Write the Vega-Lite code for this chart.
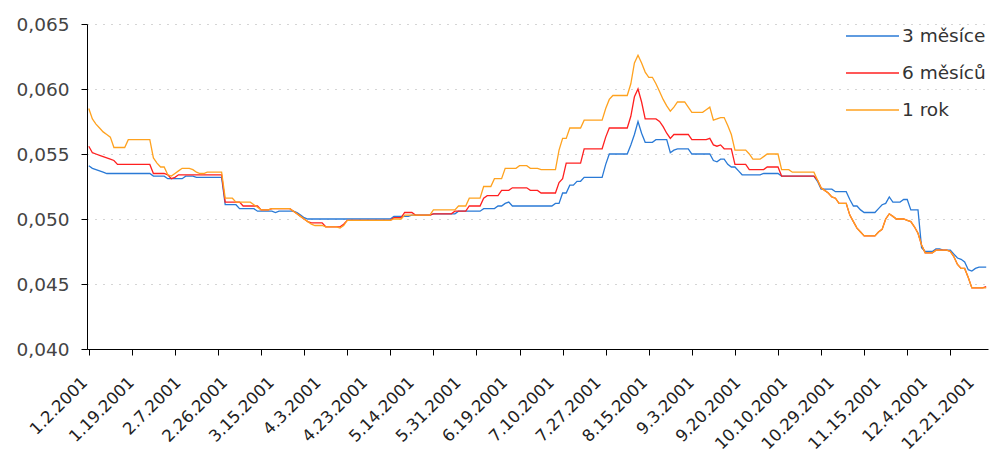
{
"$schema": "https://vega.github.io/schema/vega-lite/v6.json",
"width": 901, "height": 325,
"autosize": {"type": "none"},
"padding": {"left": 87, "top": 24, "right": 5, "bottom": 110},
"background": "white",
"config": {"view": {"stroke": null}, "font": "DejaVu Sans"},
"data": {"values": [
{"d":"1.2.2001","m3":0.0541,"m6":0.0556,"y1":0.0585},
{"d":"1.3.2001","m3":0.0539,"m6":0.0551,"y1":0.0577},
{"d":"1.4.2001","m3":0.0538,"m6":0.0550,"y1":0.0573},
{"d":"1.5.2001","m3":0.0537,"m6":0.0549,"y1":0.0570},
{"d":"1.8.2001","m3":0.0536,"m6":0.0548,"y1":0.0567},
{"d":"1.9.2001","m3":0.0535,"m6":0.0547,"y1":0.0565},
{"d":"1.10.2001","m3":0.0535,"m6":0.0546,"y1":0.0563},
{"d":"1.11.2001","m3":0.0535,"m6":0.0545,"y1":0.0555},
{"d":"1.12.2001","m3":0.0535,"m6":0.0542,"y1":0.0555},
{"d":"1.15.2001","m3":0.0535,"m6":0.0542,"y1":0.0555},
{"d":"1.16.2001","m3":0.0535,"m6":0.0542,"y1":0.0555},
{"d":"1.17.2001","m3":0.0535,"m6":0.0542,"y1":0.0561},
{"d":"1.18.2001","m3":0.0535,"m6":0.0542,"y1":0.0561},
{"d":"1.19.2001","m3":0.0535,"m6":0.0542,"y1":0.0561},
{"d":"1.22.2001","m3":0.0535,"m6":0.0542,"y1":0.0561},
{"d":"1.23.2001","m3":0.0535,"m6":0.0542,"y1":0.0561},
{"d":"1.24.2001","m3":0.0535,"m6":0.0542,"y1":0.0561},
{"d":"1.25.2001","m3":0.0535,"m6":0.0542,"y1":0.0561},
{"d":"1.26.2001","m3":0.0533,"m6":0.0535,"y1":0.0547},
{"d":"1.29.2001","m3":0.0533,"m6":0.0535,"y1":0.0543},
{"d":"1.30.2001","m3":0.0533,"m6":0.0535,"y1":0.0540},
{"d":"1.31.2001","m3":0.0533,"m6":0.0535,"y1":0.0540},
{"d":"2.1.2001","m3":0.0531,"m6":0.0534,"y1":0.0534},
{"d":"2.2.2001","m3":0.0531,"m6":0.0531,"y1":0.0533},
{"d":"2.5.2001","m3":0.0531,"m6":0.0532,"y1":0.0535},
{"d":"2.6.2001","m3":0.0531,"m6":0.0534,"y1":0.0537},
{"d":"2.7.2001","m3":0.0531,"m6":0.0534,"y1":0.0539},
{"d":"2.8.2001","m3":0.0533,"m6":0.0534,"y1":0.0539},
{"d":"2.9.2001","m3":0.0533,"m6":0.0534,"y1":0.0539},
{"d":"2.12.2001","m3":0.0533,"m6":0.0534,"y1":0.0538},
{"d":"2.13.2001","m3":0.0532,"m6":0.0534,"y1":0.0536},
{"d":"2.14.2001","m3":0.0532,"m6":0.0534,"y1":0.0535},
{"d":"2.15.2001","m3":0.0532,"m6":0.0534,"y1":0.0535},
{"d":"2.16.2001","m3":0.0532,"m6":0.0534,"y1":0.0536},
{"d":"2.19.2001","m3":0.0532,"m6":0.0534,"y1":0.0536},
{"d":"2.20.2001","m3":0.0532,"m6":0.0534,"y1":0.0536},
{"d":"2.21.2001","m3":0.0532,"m6":0.0534,"y1":0.0536},
{"d":"2.22.2001","m3":0.0532,"m6":0.0534,"y1":0.0536},
{"d":"2.23.2001","m3":0.0511,"m6":0.0513,"y1":0.0516},
{"d":"2.26.2001","m3":0.0511,"m6":0.0513,"y1":0.0516},
{"d":"2.27.2001","m3":0.0511,"m6":0.0513,"y1":0.0516},
{"d":"2.28.2001","m3":0.0511,"m6":0.0513,"y1":0.0513},
{"d":"3.1.2001","m3":0.0508,"m6":0.0513,"y1":0.0513},
{"d":"3.2.2001","m3":0.0508,"m6":0.0510,"y1":0.0513},
{"d":"3.5.2001","m3":0.0508,"m6":0.0510,"y1":0.0513},
{"d":"3.6.2001","m3":0.0508,"m6":0.0510,"y1":0.0513},
{"d":"3.7.2001","m3":0.0508,"m6":0.0510,"y1":0.0511},
{"d":"3.8.2001","m3":0.0506,"m6":0.0510,"y1":0.0509},
{"d":"3.9.2001","m3":0.0506,"m6":0.0507,"y1":0.0507},
{"d":"3.12.2001","m3":0.0506,"m6":0.0507,"y1":0.0507},
{"d":"3.13.2001","m3":0.0506,"m6":0.0507,"y1":0.0507},
{"d":"3.14.2001","m3":0.0506,"m6":0.0508,"y1":0.0508},
{"d":"3.15.2001","m3":0.0505,"m6":0.0508,"y1":0.0508},
{"d":"3.16.2001","m3":0.0506,"m6":0.0508,"y1":0.0508},
{"d":"3.19.2001","m3":0.0506,"m6":0.0508,"y1":0.0508},
{"d":"3.20.2001","m3":0.0506,"m6":0.0508,"y1":0.0508},
{"d":"3.21.2001","m3":0.0506,"m6":0.0508,"y1":0.0508},
{"d":"3.22.2001","m3":0.0506,"m6":0.0506,"y1":0.0506},
{"d":"3.23.2001","m3":0.0505,"m6":0.0504,"y1":0.0504},
{"d":"3.26.2001","m3":0.0503,"m6":0.0502,"y1":0.0502},
{"d":"3.27.2001","m3":0.0501,"m6":0.0500,"y1":0.0500},
{"d":"3.28.2001","m3":0.0500,"m6":0.0498,"y1":0.0498},
{"d":"3.29.2001","m3":0.0500,"m6":0.0497,"y1":0.0496},
{"d":"3.30.2001","m3":0.0500,"m6":0.0497,"y1":0.0495},
{"d":"4.2.2001","m3":0.0500,"m6":0.0497,"y1":0.0495},
{"d":"4.3.2001","m3":0.0500,"m6":0.0497,"y1":0.0495},
{"d":"4.4.2001","m3":0.0500,"m6":0.0494,"y1":0.0494},
{"d":"4.5.2001","m3":0.0500,"m6":0.0494,"y1":0.0494},
{"d":"4.6.2001","m3":0.0500,"m6":0.0494,"y1":0.0494},
{"d":"4.9.2001","m3":0.0500,"m6":0.0494,"y1":0.0494},
{"d":"4.10.2001","m3":0.0500,"m6":0.0494,"y1":0.0493},
{"d":"4.11.2001","m3":0.0500,"m6":0.0496,"y1":0.0495},
{"d":"4.12.2001","m3":0.0500,"m6":0.0499,"y1":0.0499},
{"d":"4.13.2001","m3":0.0500,"m6":0.0499,"y1":0.0499},
{"d":"4.17.2001","m3":0.0500,"m6":0.0499,"y1":0.0499},
{"d":"4.18.2001","m3":0.0500,"m6":0.0499,"y1":0.0499},
{"d":"4.19.2001","m3":0.0500,"m6":0.0499,"y1":0.0499},
{"d":"4.20.2001","m3":0.0500,"m6":0.0499,"y1":0.0499},
{"d":"4.23.2001","m3":0.0500,"m6":0.0499,"y1":0.0499},
{"d":"4.24.2001","m3":0.0500,"m6":0.0499,"y1":0.0499},
{"d":"4.25.2001","m3":0.0500,"m6":0.0499,"y1":0.0499},
{"d":"4.26.2001","m3":0.0500,"m6":0.0499,"y1":0.0499},
{"d":"4.27.2001","m3":0.0500,"m6":0.0499,"y1":0.0499},
{"d":"4.30.2001","m3":0.0500,"m6":0.0499,"y1":0.0499},
{"d":"5.2.2001","m3":0.0500,"m6":0.0499,"y1":0.0499},
{"d":"5.3.2001","m3":0.0502,"m6":0.0501,"y1":0.0500},
{"d":"5.4.2001","m3":0.0502,"m6":0.0501,"y1":0.0500},
{"d":"5.7.2001","m3":0.0502,"m6":0.0501,"y1":0.0500},
{"d":"5.9.2001","m3":0.0502,"m6":0.0505,"y1":0.0503},
{"d":"5.10.2001","m3":0.0502,"m6":0.0505,"y1":0.0503},
{"d":"5.11.2001","m3":0.0503,"m6":0.0505,"y1":0.0503},
{"d":"5.14.2001","m3":0.0503,"m6":0.0503,"y1":0.0503},
{"d":"5.15.2001","m3":0.0503,"m6":0.0503,"y1":0.0503},
{"d":"5.16.2001","m3":0.0503,"m6":0.0503,"y1":0.0503},
{"d":"5.17.2001","m3":0.0503,"m6":0.0503,"y1":0.0503},
{"d":"5.18.2001","m3":0.0503,"m6":0.0503,"y1":0.0503},
{"d":"5.21.2001","m3":0.0504,"m6":0.0504,"y1":0.0507},
{"d":"5.22.2001","m3":0.0504,"m6":0.0504,"y1":0.0507},
{"d":"5.23.2001","m3":0.0504,"m6":0.0504,"y1":0.0507},
{"d":"5.24.2001","m3":0.0504,"m6":0.0504,"y1":0.0507},
{"d":"5.25.2001","m3":0.0504,"m6":0.0504,"y1":0.0507},
{"d":"5.28.2001","m3":0.0504,"m6":0.0504,"y1":0.0507},
{"d":"5.29.2001","m3":0.0504,"m6":0.0506,"y1":0.0507},
{"d":"5.30.2001","m3":0.0506,"m6":0.0506,"y1":0.0510},
{"d":"5.31.2001","m3":0.0506,"m6":0.0506,"y1":0.0510},
{"d":"6.1.2001","m3":0.0506,"m6":0.0506,"y1":0.0510},
{"d":"6.4.2001","m3":0.0506,"m6":0.0510,"y1":0.0516},
{"d":"6.5.2001","m3":0.0506,"m6":0.0510,"y1":0.0516},
{"d":"6.6.2001","m3":0.0506,"m6":0.0510,"y1":0.0516},
{"d":"6.7.2001","m3":0.0506,"m6":0.0510,"y1":0.0516},
{"d":"6.8.2001","m3":0.0508,"m6":0.0516,"y1":0.0525},
{"d":"6.11.2001","m3":0.0508,"m6":0.0518,"y1":0.0525},
{"d":"6.12.2001","m3":0.0508,"m6":0.0518,"y1":0.0525},
{"d":"6.13.2001","m3":0.0508,"m6":0.0518,"y1":0.0531},
{"d":"6.14.2001","m3":0.0510,"m6":0.0518,"y1":0.0531},
{"d":"6.15.2001","m3":0.0510,"m6":0.0522,"y1":0.0531},
{"d":"6.18.2001","m3":0.0512,"m6":0.0522,"y1":0.0539},
{"d":"6.19.2001","m3":0.0513,"m6":0.0522,"y1":0.0539},
{"d":"6.20.2001","m3":0.0510,"m6":0.0524,"y1":0.0539},
{"d":"6.21.2001","m3":0.0510,"m6":0.0524,"y1":0.0539},
{"d":"6.22.2001","m3":0.0510,"m6":0.0524,"y1":0.0541},
{"d":"6.25.2001","m3":0.0510,"m6":0.0524,"y1":0.0541},
{"d":"6.26.2001","m3":0.0510,"m6":0.0524,"y1":0.0541},
{"d":"6.27.2001","m3":0.0510,"m6":0.0522,"y1":0.0539},
{"d":"6.28.2001","m3":0.0510,"m6":0.0522,"y1":0.0539},
{"d":"6.29.2001","m3":0.0510,"m6":0.0522,"y1":0.0539},
{"d":"7.2.2001","m3":0.0510,"m6":0.0520,"y1":0.0538},
{"d":"7.3.2001","m3":0.0510,"m6":0.0520,"y1":0.0538},
{"d":"7.4.2001","m3":0.0510,"m6":0.0520,"y1":0.0538},
{"d":"7.9.2001","m3":0.0510,"m6":0.0520,"y1":0.0538},
{"d":"7.10.2001","m3":0.0512,"m6":0.0520,"y1":0.0538},
{"d":"7.11.2001","m3":0.0512,"m6":0.0528,"y1":0.0553},
{"d":"7.12.2001","m3":0.0520,"m6":0.0531,"y1":0.0562},
{"d":"7.13.2001","m3":0.0520,"m6":0.0543,"y1":0.0562},
{"d":"7.16.2001","m3":0.0526,"m6":0.0543,"y1":0.0570},
{"d":"7.17.2001","m3":0.0526,"m6":0.0543,"y1":0.0570},
{"d":"7.18.2001","m3":0.0529,"m6":0.0543,"y1":0.0570},
{"d":"7.19.2001","m3":0.0529,"m6":0.0543,"y1":0.0570},
{"d":"7.20.2001","m3":0.0532,"m6":0.0554,"y1":0.0576},
{"d":"7.23.2001","m3":0.0532,"m6":0.0554,"y1":0.0576},
{"d":"7.24.2001","m3":0.0532,"m6":0.0554,"y1":0.0576},
{"d":"7.25.2001","m3":0.0532,"m6":0.0554,"y1":0.0576},
{"d":"7.26.2001","m3":0.0532,"m6":0.0554,"y1":0.0576},
{"d":"7.27.2001","m3":0.0532,"m6":0.0554,"y1":0.0576},
{"d":"7.30.2001","m3":0.0542,"m6":0.0563,"y1":0.0585},
{"d":"7.31.2001","m3":0.0550,"m6":0.0570,"y1":0.0592},
{"d":"8.1.2001","m3":0.0550,"m6":0.0570,"y1":0.0595},
{"d":"8.2.2001","m3":0.0550,"m6":0.0570,"y1":0.0595},
{"d":"8.3.2001","m3":0.0550,"m6":0.0570,"y1":0.0595},
{"d":"8.6.2001","m3":0.0550,"m6":0.0570,"y1":0.0595},
{"d":"8.7.2001","m3":0.0550,"m6":0.0570,"y1":0.0595},
{"d":"8.8.2001","m3":0.0557,"m6":0.0579,"y1":0.0604},
{"d":"8.9.2001","m3":0.0565,"m6":0.0594,"y1":0.0620},
{"d":"8.10.2001","m3":0.0575,"m6":0.0600,"y1":0.0626},
{"d":"8.13.2001","m3":0.0566,"m6":0.0590,"y1":0.0620},
{"d":"8.14.2001","m3":0.0559,"m6":0.0577,"y1":0.0613},
{"d":"8.15.2001","m3":0.0559,"m6":0.0577,"y1":0.0609},
{"d":"8.16.2001","m3":0.0559,"m6":0.0577,"y1":0.0609},
{"d":"8.17.2001","m3":0.0561,"m6":0.0577,"y1":0.0604},
{"d":"8.20.2001","m3":0.0561,"m6":0.0575,"y1":0.0598},
{"d":"8.21.2001","m3":0.0561,"m6":0.0571,"y1":0.0592},
{"d":"8.22.2001","m3":0.0561,"m6":0.0566,"y1":0.0587},
{"d":"8.23.2001","m3":0.0551,"m6":0.0562,"y1":0.0583},
{"d":"8.24.2001","m3":0.0553,"m6":0.0565,"y1":0.0586},
{"d":"8.27.2001","m3":0.0554,"m6":0.0565,"y1":0.0590},
{"d":"8.28.2001","m3":0.0554,"m6":0.0565,"y1":0.0590},
{"d":"8.29.2001","m3":0.0554,"m6":0.0565,"y1":0.0590},
{"d":"8.30.2001","m3":0.0554,"m6":0.0565,"y1":0.0586},
{"d":"8.31.2001","m3":0.0550,"m6":0.0561,"y1":0.0582},
{"d":"9.3.2001","m3":0.0550,"m6":0.0561,"y1":0.0582},
{"d":"9.4.2001","m3":0.0550,"m6":0.0561,"y1":0.0582},
{"d":"9.5.2001","m3":0.0550,"m6":0.0561,"y1":0.0582},
{"d":"9.6.2001","m3":0.0550,"m6":0.0561,"y1":0.0584},
{"d":"9.7.2001","m3":0.0550,"m6":0.0562,"y1":0.0586},
{"d":"9.10.2001","m3":0.0545,"m6":0.0557,"y1":0.0576},
{"d":"9.11.2001","m3":0.0544,"m6":0.0556,"y1":0.0577},
{"d":"9.12.2001","m3":0.0546,"m6":0.0557,"y1":0.0578},
{"d":"9.13.2001","m3":0.0546,"m6":0.0554,"y1":0.0578},
{"d":"9.14.2001","m3":0.0542,"m6":0.0554,"y1":0.0572},
{"d":"9.17.2001","m3":0.0540,"m6":0.0554,"y1":0.0565},
{"d":"9.18.2001","m3":0.0540,"m6":0.0542,"y1":0.0553},
{"d":"9.19.2001","m3":0.0537,"m6":0.0542,"y1":0.0553},
{"d":"9.20.2001","m3":0.0534,"m6":0.0542,"y1":0.0553},
{"d":"9.21.2001","m3":0.0534,"m6":0.0542,"y1":0.0553},
{"d":"9.24.2001","m3":0.0534,"m6":0.0538,"y1":0.0550},
{"d":"9.25.2001","m3":0.0534,"m6":0.0538,"y1":0.0546},
{"d":"9.26.2001","m3":0.0534,"m6":0.0538,"y1":0.0546},
{"d":"9.27.2001","m3":0.0534,"m6":0.0538,"y1":0.0546},
{"d":"10.1.2001","m3":0.0535,"m6":0.0538,"y1":0.0548},
{"d":"10.2.2001","m3":0.0535,"m6":0.0540,"y1":0.0550},
{"d":"10.3.2001","m3":0.0535,"m6":0.0540,"y1":0.0550},
{"d":"10.4.2001","m3":0.0535,"m6":0.0540,"y1":0.0550},
{"d":"10.5.2001","m3":0.0535,"m6":0.0540,"y1":0.0550},
{"d":"10.8.2001","m3":0.0533,"m6":0.0533,"y1":0.0538},
{"d":"10.9.2001","m3":0.0533,"m6":0.0533,"y1":0.0538},
{"d":"10.10.2001","m3":0.0533,"m6":0.0533,"y1":0.0538},
{"d":"10.11.2001","m3":0.0533,"m6":0.0533,"y1":0.0536},
{"d":"10.12.2001","m3":0.0533,"m6":0.0533,"y1":0.0536},
{"d":"10.15.2001","m3":0.0533,"m6":0.0533,"y1":0.0536},
{"d":"10.16.2001","m3":0.0533,"m6":0.0533,"y1":0.0536},
{"d":"10.17.2001","m3":0.0533,"m6":0.0533,"y1":0.0536},
{"d":"10.18.2001","m3":0.0533,"m6":0.0533,"y1":0.0536},
{"d":"10.19.2001","m3":0.0533,"m6":0.0533,"y1":0.0536},
{"d":"10.22.2001","m3":0.0529,"m6":0.0530,"y1":0.0530},
{"d":"10.23.2001","m3":0.0523,"m6":0.0524,"y1":0.0524},
{"d":"10.24.2001","m3":0.0523,"m6":0.0522,"y1":0.0522},
{"d":"10.25.2001","m3":0.0523,"m6":0.0520,"y1":0.0520},
{"d":"10.26.2001","m3":0.0523,"m6":0.0517,"y1":0.0517},
{"d":"10.29.2001","m3":0.0521,"m6":0.0516,"y1":0.0516},
{"d":"10.30.2001","m3":0.0521,"m6":0.0512,"y1":0.0512},
{"d":"10.31.2001","m3":0.0521,"m6":0.0512,"y1":0.0512},
{"d":"11.1.2001","m3":0.0521,"m6":0.0512,"y1":0.0512},
{"d":"11.2.2001","m3":0.0515,"m6":0.0503,"y1":0.0503},
{"d":"11.5.2001","m3":0.0510,"m6":0.0498,"y1":0.0498},
{"d":"11.6.2001","m3":0.0510,"m6":0.0493,"y1":0.0493},
{"d":"11.7.2001","m3":0.0507,"m6":0.0490,"y1":0.0490},
{"d":"11.8.2001","m3":0.0505,"m6":0.0487,"y1":0.0487},
{"d":"11.9.2001","m3":0.0505,"m6":0.0487,"y1":0.0487},
{"d":"11.12.2001","m3":0.0505,"m6":0.0487,"y1":0.0487},
{"d":"11.13.2001","m3":0.0505,"m6":0.0487,"y1":0.0487},
{"d":"11.14.2001","m3":0.0508,"m6":0.0490,"y1":0.0490},
{"d":"11.15.2001","m3":0.0511,"m6":0.0492,"y1":0.0492},
{"d":"11.16.2001","m3":0.0512,"m6":0.0500,"y1":0.0500},
{"d":"11.19.2001","m3":0.0517,"m6":0.0504,"y1":0.0504},
{"d":"11.20.2001","m3":0.0513,"m6":0.0502,"y1":0.0502},
{"d":"11.21.2001","m3":0.0513,"m6":0.0500,"y1":0.0500},
{"d":"11.22.2001","m3":0.0513,"m6":0.0500,"y1":0.0500},
{"d":"11.23.2001","m3":0.0515,"m6":0.0500,"y1":0.0500},
{"d":"11.26.2001","m3":0.0515,"m6":0.0499,"y1":0.0499},
{"d":"11.27.2001","m3":0.0507,"m6":0.0498,"y1":0.0498},
{"d":"11.28.2001","m3":0.0507,"m6":0.0494,"y1":0.0494},
{"d":"11.29.2001","m3":0.0507,"m6":0.0489,"y1":0.0489},
{"d":"11.30.2001","m3":0.0478,"m6":0.0480,"y1":0.0480},
{"d":"12.3.2001","m3":0.0475,"m6":0.0474,"y1":0.0474},
{"d":"12.4.2001","m3":0.0475,"m6":0.0474,"y1":0.0474},
{"d":"12.5.2001","m3":0.0475,"m6":0.0474,"y1":0.0474},
{"d":"12.6.2001","m3":0.0477,"m6":0.0476,"y1":0.0476},
{"d":"12.7.2001","m3":0.0477,"m6":0.0476,"y1":0.0476},
{"d":"12.10.2001","m3":0.0476,"m6":0.0476,"y1":0.0476},
{"d":"12.11.2001","m3":0.0476,"m6":0.0476,"y1":0.0476},
{"d":"12.12.2001","m3":0.0476,"m6":0.0475,"y1":0.0475},
{"d":"12.13.2001","m3":0.0473,"m6":0.0471,"y1":0.0471},
{"d":"12.14.2001","m3":0.0470,"m6":0.0465,"y1":0.0465},
{"d":"12.17.2001","m3":0.0469,"m6":0.0462,"y1":0.0462},
{"d":"12.18.2001","m3":0.0467,"m6":0.0462,"y1":0.0462},
{"d":"12.19.2001","m3":0.0461,"m6":0.0455,"y1":0.0455},
{"d":"12.20.2001","m3":0.0460,"m6":0.0447,"y1":0.0447},
{"d":"12.21.2001","m3":0.0462,"m6":0.0447,"y1":0.0447},
{"d":"12.27.2001","m3":0.0463,"m6":0.0447,"y1":0.0447},
{"d":"12.28.2001","m3":0.0463,"m6":0.0447,"y1":0.0447},
{"d":"12.31.2001","m3":0.0463,"m6":0.0448,"y1":0.0447}
]},
"transform": [{"fold": ["m3", "m6", "y1"], "as": ["s", "v"]}],
"mark": {"type": "line", "strokeWidth": 1.3},
"encoding": {
  "x": {"field": "d", "type": "ordinal", "sort": null,
    "scale": {"type": "point", "padding": 0.5},
    "axis": {"title": null,
      "values": ["1.2.2001","1.18.2001","1.19.2001","2.5.2001","2.7.2001","2.21.2001","2.26.2001","3.9.2001","3.15.2001","3.27.2001","4.3.2001","4.12.2001","4.23.2001","5.2.2001","5.14.2001","5.21.2001","5.31.2001","6.6.2001","6.19.2001","6.22.2001","7.10.2001","7.12.2001","7.27.2001","7.30.2001","8.15.2001","8.31.2001","9.3.2001","9.18.2001","9.20.2001","10.5.2001","10.10.2001","10.23.2001","10.29.2001","11.8.2001","11.15.2001","11.26.2001","12.4.2001","12.12.2001","12.21.2001"],
      "labelExpr": "indexof(['1.2.2001','1.19.2001','2.7.2001','2.26.2001','3.15.2001','4.3.2001','4.23.2001','5.14.2001','5.31.2001','6.19.2001','7.10.2001','7.27.2001','8.15.2001','9.3.2001','9.20.2001','10.10.2001','10.29.2001','11.15.2001','12.4.2001','12.21.2001'], datum.value) >= 0 ? datum.value : ''",
      "tickOpacity": {"condition": {"test": "indexof(['1.2.2001','1.18.2001','2.5.2001','2.21.2001','3.9.2001','3.27.2001','4.12.2001','5.2.2001','5.21.2001','6.6.2001','6.22.2001','7.12.2001','7.30.2001','8.15.2001','8.31.2001','9.18.2001','10.5.2001','10.23.2001','11.8.2001','11.26.2001','12.12.2001'], datum.value) >= 0", "value": 1}, "value": 0},
      "labelAngle": -45, "labelFontSize": 16.5, "labelColor": "#222",
      "labelOverlap": false, "labelBound": false, "labelFlush": false,
      "tickSize": 6, "tickColor": "#000", "domainColor": "#000", "grid": false,
      "labelPadding": 19, "labelOffset": -10}
  },
  "y": {"field": "v", "type": "quantitative",
    "scale": {"domain": [0.04, 0.065], "nice": false, "zero": false},
    "axis": {"title": null, "values": [0.04, 0.045, 0.05, 0.055, 0.06, 0.065],
      "labelExpr": "replace(format(datum.value, '.3f'), '.', ',')",
      "grid": true, "gridDash": [1, 7], "gridColor": "#aaaaaa",
      "tickSize": 6, "tickColor": "#000", "domainColor": "#000",
      "labelPadding": 12, "labelFontSize": 18.5, "labelColor": "#444"}
  },
  "color": {"field": "s", "type": "nominal",
    "scale": {"domain": ["m3", "m6", "y1"], "range": ["#2a7ad6", "#ff2020", "#ffa21f"]},
    "legend": {"title": null, "orient": "none", "legendX": 758, "legendY": 1, "padding": 0,
      "symbolType": "stroke", "symbolSize": 2809, "symbolStrokeWidth": 1.5,
      "labelFontSize": 18.5, "labelColor": "#333", "labelOffset": 2,
      "clipHeight": 22, "rowPadding": 15,
      "labelExpr": "datum.value == 'm3' ? '3 měsíce' : datum.value == 'm6' ? '6 měsíců' : '1 rok'"}
  }
}
}
